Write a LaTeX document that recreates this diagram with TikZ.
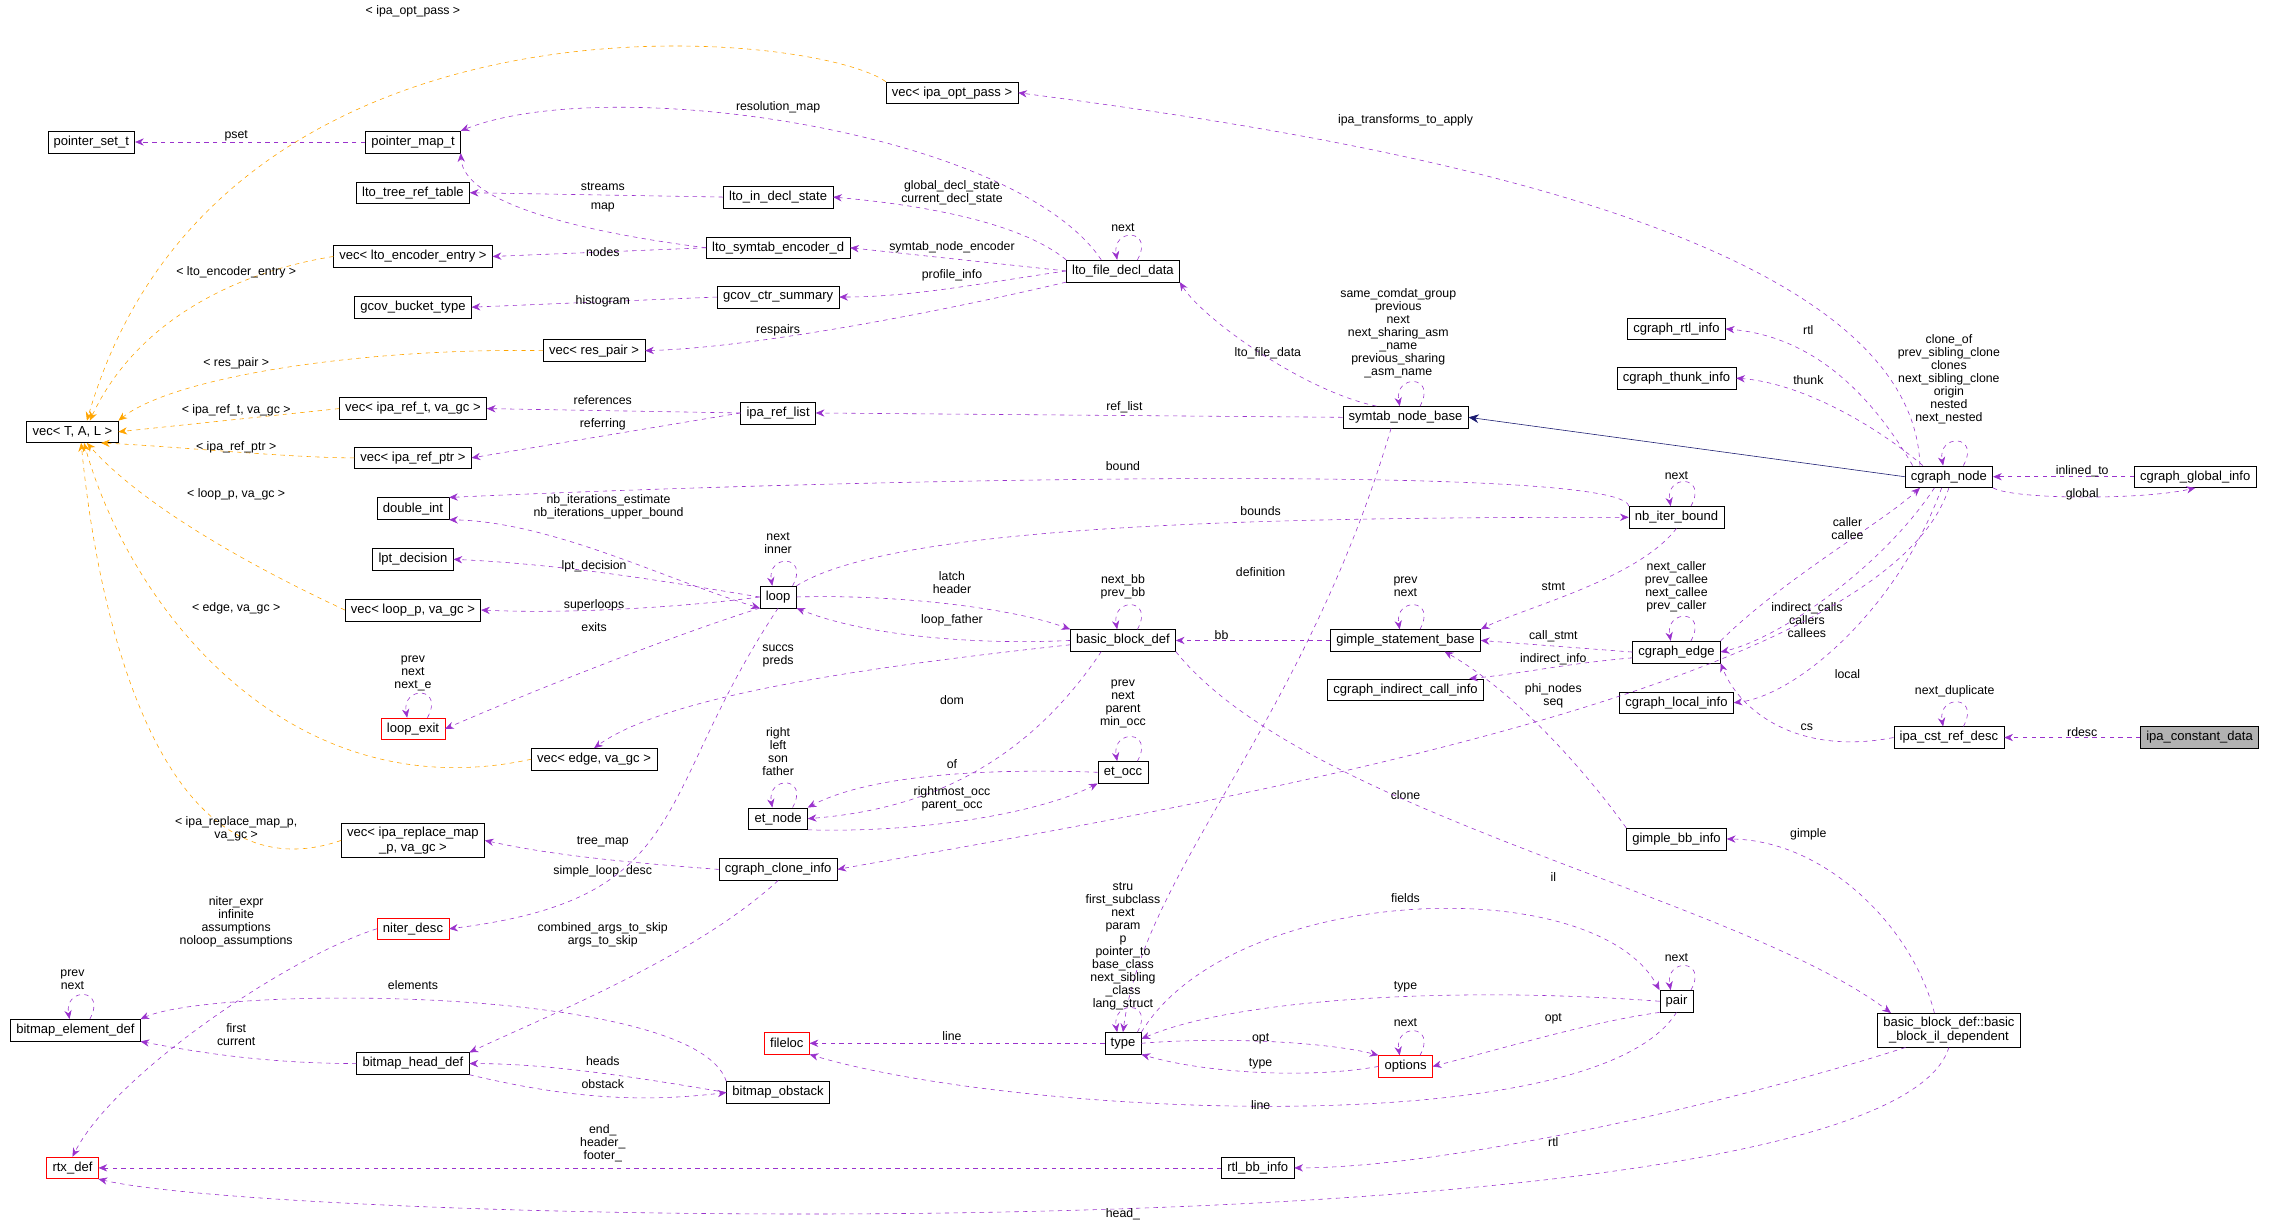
\documentclass[tikz,border=0pt]{standalone}
\usepackage{fontspec}
\setmainfont{Liberation Sans}
\usetikzlibrary{arrows.meta,calc}
\definecolor{pu}{HTML}{9A32CD}
\definecolor{og}{HTML}{FFA500}
\definecolor{nv}{HTML}{191970}
\tikzset{
 cls/.style={draw,fill=white,font=\fontsize{9}{10}\selectfont,inner xsep=4pt,inner ysep=2.5pt,minimum height=15pt,align=center},
 red/.style={cls,draw=red},
 e/.style={draw=pu,dashed,-{Stealth[length=6pt,width=5pt]}},
 o/.style={draw=og,dashed,-{Stealth[length=6pt,width=5pt]}},
 lbl/.style={font=\fontsize{8.5}{9}\selectfont,align=center,inner sep=0pt},
}
\newcommand\myloop[1]{\draw[e] ($(#1.north)+(10,0)$) .. controls +(12,-22) and +(-4,-22) .. ($(#1.north)+(-4,0)$);}
\begin{document}
\begin{tikzpicture}[x=1pt,y=-1pt]
\useasboundingbox[fill=white] (0,0) rectangle (1568,848);
% nodes
\node[cls,fill=black!30] (icd) at (1518,509) {ipa\_constant\_data};
\node[cls] (icr) at (1345,509) {ipa\_cst\_ref\_desc};
\node[cls] (cgn) at (1345,329) {cgraph\_node};
\node[cls] (cgg) at (1515,329) {cgraph\_global\_info};
\node[cls] (crtl) at (1157,227) {cgraph\_rtl\_info};
\node[cls] (cth) at (1157,261) {cgraph\_thunk\_info};
\node[cls] (sym) at (970,288) {symtab\_node\_base};
\node[cls] (ced) at (1157,450) {cgraph\_edge};
\node[cls] (cici) at (970,476) {cgraph\_indirect\_call\_info};
\node[cls] (cli) at (1157,485) {cgraph\_local\_info};
\node[cls] (gsb) at (970,442) {gimple\_statement\_base};
\node[cls] (nib) at (1157,357) {nb\_iter\_bound};
\node[cls] (gbi) at (1157,579) {gimple\_bb\_info};
\node[cls] (bbd) at (775,442) {basic\_block\_def};
\node[cls] (lp) at (537,412) {loop};
\node[cls] (eto) at (775,533) {et\_occ};
\node[cls] (etn) at (537,565) {et\_node};
\node[cls] (vop) at (657,64) {vec< ipa\_opt\_pass >};
\node[cls] (pmt) at (285,98) {pointer\_map\_t};
\node[cls] (pst) at (63,98) {pointer\_set\_t};
\node[cls] (ltr) at (285,133) {lto\_tree\_ref\_table};
\node[cls] (lid) at (537,136) {lto\_in\_decl\_state};
\node[cls] (lse) at (537,171) {lto\_symtab\_encoder\_d};
\node[cls] (lfd) at (775,187) {lto\_file\_decl\_data};
\node[cls] (vle) at (285,177) {vec< lto\_encoder\_entry >};
\node[cls] (gbt) at (285,212) {gcov\_bucket\_type};
\node[cls] (gcs) at (537,205) {gcov\_ctr\_summary};
\node[cls] (vrp) at (410,242) {vec< res\_pair >};
\node[cls] (vt) at (50,298) {vec< T, A, L >};
\node[cls] (vir) at (285,282) {vec< ipa\_ref\_t, va\_gc >};
\node[cls] (irl) at (537,285) {ipa\_ref\_list};
\node[cls] (vip) at (285,316) {vec< ipa\_ref\_ptr >};
\node[cls] (dbi) at (285,351) {double\_int};
\node[cls] (lpt) at (285,386) {lpt\_decision};
\node[cls] (vlp) at (285,421) {vec< loop\_p, va\_gc >};
\node[red] (lex) at (285,503) {loop\_exit};
\node[cls] (ved) at (410,524) {vec< edge, va\_gc >};
\node[cls] (vrm) at (285,580) {vec< ipa\_replace\_map\\\_p, va\_gc >};
\node[cls] (cci) at (537,600) {cgraph\_clone\_info};
\node[red] (nid) at (285,641) {niter\_desc};
\node[cls] (bed) at (52,711) {bitmap\_element\_def};
\node[cls] (bhd) at (285,734) {bitmap\_head\_def};
\node[cls] (bob) at (537,754) {bitmap\_obstack};
\node[red] (flc) at (543,720) {fileloc};
\node[cls] (typ) at (775,720) {type};
\node[red] (opt) at (970,736) {options};
\node[cls] (par) at (1157,691) {pair};
\node[cls] (bbil) at (1345,711) {basic\_block\_def::basic\\\_block\_il\_dependent};
\node[cls] (rbi) at (868,806) {rtl\_bb\_info};
\node[red] (rtx) at (50,806) {rtx\_def};
% edges
\draw[e] (icd) -- (icr); \node[lbl] (l1) at (1437,505) {rdesc};
\myloop{icr} \node[lbl] (l2) at (1349,477) {next\_duplicate};
\draw[e] (icr.west) .. controls (1240,522) and (1200,490) .. (ced.south east); \node[lbl] (l3) at (1247,502) {cs};
\myloop{cgn} \node[lbl] (l4) at (1345,262) {clone\_of\\prev\_sibling\_clone\\clones\\next\_sibling\_clone\\origin\\nested\\next\_nested};
\draw[e] (cgg) -- (cgn); \node[lbl] (l5) at (1437,325) {inlined\_to};
\draw[e] (cgn.south east) .. controls (1390,345) and (1480,345) .. (cgg.south); \node[lbl] (l6) at (1437,341) {global};
\draw[e] ($(cgn.north)+(-25,0)$) .. controls (1290,270) and (1250,232) .. (crtl.east); \node[lbl] (l7) at (1248,228) {rtl};
\draw[e] ($(cgn.north)+(-18,0)$) .. controls (1290,290) and (1240,264) .. (cth.east); \node[lbl] (l8) at (1248,262) {thunk};
\draw[e] ($(cgn.north)+(-20,0)$) .. controls (1320,150) and (900,90) .. (vop.east); \node[lbl] (l9) at (970,83) {ipa\_transforms\_to\_apply};
\draw[draw=nv,-{Stealth[length=7pt,width=6pt]}] (cgn.west) -- (sym.east);
\draw[e] (ced.north east) .. controls (1230,400) and (1300,360) .. ($(cgn.south)+(-20,0)$); \node[lbl] (l11) at (1275,365) {caller\\callee};
\draw[e] ($(cgn.south)+(-10,0)$) .. controls (1300,390) and (1230,440) .. (ced.east); \node[lbl] (l12) at (1247,428) {indirect\_calls\\callers\\callees};
\draw[e] ($(cgn.south)+(-5,0)$) .. controls (1310,420) and (1240,480) .. (cli.east); \node[lbl] (l13) at (1275,465) {local};
\myloop{ced} \node[lbl] (l14) at (1157,405) {next\_caller\\prev\_callee\\next\_callee\\prev\_caller};
\draw[e] (ced.west) -- (gsb.east); \node[lbl] (l15) at (1072,439) {call\_stmt};
\draw[e] ($(ced.west)+(0,4)$) .. controls (1080,458) and (1050,465) .. ($(cici.north east)+(-10,0)$); \node[lbl] (l16) at (1072,455) {indirect\_info};
\draw[e] ($(cgn.south)+(0,0)$) .. controls (1300,480) and (800,560) .. (cci.east); \node[lbl] (l17) at (970,549) {clone};
\myloop{sym} \node[lbl] (l18) at (965,230) {same\_comdat\_group\\previous\\next\\next\_sharing\_asm\\\_name\\previous\_sharing\\\_asm\_name};
\draw[e] ($(sym.north)+(-20,0)$) .. controls (900,270) and (830,220) .. (lfd.south east); \node[lbl] (l19) at (875,244) {lto\_file\_data};
\draw[e] (sym.west) -- (irl.east); \node[lbl] (l20) at (776,281) {ref\_list};
\draw[e] ($(sym.south)+(-10,0)$) .. controls (900,500) and (790,600) .. (typ.north); \node[lbl] (l21) at (870,395) {definition};
\myloop{nib} \node[lbl] (l22) at (1157,328) {next};
\draw[e] (nib.north west) .. controls (1120,320) and (600,330) .. (dbi.north east); \node[lbl] (l23) at (775,322) {bound};
\draw[e] (lp.north east) .. controls (620,360) and (900,357) .. (nib.west); \node[lbl] (l24) at (870,353) {bounds};
\draw[e] (nib.south) .. controls (1130,400) and (1050,420) .. (gsb.north east); \node[lbl] (l25) at (1072,405) {stmt};
\myloop{gsb} \node[lbl] (l26) at (970,405) {prev\\next};
\draw[e] (gsb.west) -- (bbd.east); \node[lbl] (l27) at (843,438) {bb};
\draw[e] (gbi.north west) .. controls (1100,540) and (1050,480) .. ($(gsb.south east)+(-25,0)$); \node[lbl] (l28) at (1072,480) {phi\_nodes\\seq};
\draw[e] ($(bbil.north)+(-10,0)$) .. controls (1320,640) and (1260,580) .. (gbi.east); \node[lbl] (l29) at (1248,576) {gimple};
\draw[e] (bbd.south east) .. controls (900,560) and (1200,620) .. ($(bbil.north)+(-40,0)$); \node[lbl] (l30) at (1072,605) {il};
\draw[e] ($(bbil.south)+(-30,0)$) .. controls (1200,760) and (1000,806) .. (rbi.east); \node[lbl] (l31) at (1072,788) {rtl};
\draw[e] (bbil.south) .. controls (1300,870) and (200,845) .. (rtx.south east); \node[lbl] (l32) at (775,838) {head\_};
\draw[e] (rbi.west) -- (rtx.east); \node[lbl] (l33) at (416,789) {end\_\\header\_\\footer\_};
\myloop{bbd} \node[lbl] (l34) at (775,405) {next\_bb\\prev\_bb};
\draw[e] (lp.east) .. controls (620,410) and (700,420) .. (bbd.north west); \node[lbl] (l35) at (657,402) {latch\\header};
\draw[e] (bbd.west) .. controls (680,445) and (600,440) .. (lp.south east); \node[lbl] (l36) at (657,428) {loop\_father};
\draw[e] ($(bbd.west)+(0,3)$) .. controls (600,460) and (460,480) .. (ved.north); \node[lbl] (l37) at (537,453) {succs\\preds};
\draw[e] ($(bbd.south)+(-15,0)$) .. controls (700,540) and (620,560) .. (etn.east); \node[lbl] (l38) at (657,483) {dom};
\myloop{lp} \node[lbl] (l39) at (537,375) {next\\inner};
\draw[<->,>={Stealth[length=6pt,width=5pt]},draw=pu,dashed] (lp.south west) .. controls (460,400) and (380,360) .. (dbi.south east); \node[lbl] (l40) at (420,350) {nb\_iterations\_estimate\\nb\_iterations\_upper\_bound};
\draw[e] (lp.west) .. controls (480,405) and (400,390) .. (lpt.east); \node[lbl] (l41) at (410,391) {lpt\_decision};
\draw[e] (lp.west) .. controls (480,418) and (400,424) .. (vlp.east); \node[lbl] (l42) at (410,418) {superloops};
\draw[e] (lp.south west) .. controls (460,440) and (360,480) .. (lex.east); \node[lbl] (l43) at (410,433) {exits};
\myloop{lex} \node[lbl] (l44) at (285,465) {prev\\next\\next\_e};
\draw[e] (lp.south) .. controls (450,550) and (480,620) .. (nid.east); \node[lbl] (l45) at (416,601) {simple\_loop\_desc};
\myloop{etn} \node[lbl] (l46) at (537,519) {right\\left\\son\\father};
\draw[e] (eto.west) .. controls (680,530) and (600,535) .. (etn.north east); \node[lbl] (l47) at (657,527) {of};
\draw[e] (etn.south east) .. controls (640,575) and (720,560) .. (eto.south west); \node[lbl] (l48) at (657,551) {rightmost\_occ\\parent\_occ};
\myloop{eto} \node[lbl] (l49) at (775,486) {prev\\next\\parent\\min\_occ};
\myloop{lfd} \node[lbl] (l50) at (775,157) {next};
\draw[e] ($(lfd.north)+(-15,0)$) .. controls (700,90) and (420,50) .. (pmt.north east); \node[lbl] (l51) at (537,74) {resolution\_map};
\draw[e] (lfd.north west) .. controls (700,150) and (620,140) .. (lid.east); \node[lbl] (l52) at (657,133) {global\_decl\_state\\current\_decl\_state};
\draw[e] (lfd.west) -- (lse.east); \node[lbl] (l53) at (657,171) {symtab\_node\_encoder};
\draw[e] (lfd.west) .. controls (680,195) and (630,205) .. (gcs.east); \node[lbl] (l54) at (657,190) {profile\_info};
\draw[e] (lfd.south west) .. controls (650,215) and (520,240) .. (vrp.east); \node[lbl] (l55) at (537,228) {respairs};
\draw[e] (lid.west) -- (ltr.east); \node[lbl] (l56) at (416,129) {streams};
\draw[e] (lse.west) .. controls (400,160) and (320,140) .. (pmt.south east); \node[lbl] (l57) at (416,143) {map};
\draw[e] (lse.west) -- (vle.east); \node[lbl] (l58) at (416,174) {nodes};
\draw[e] (gcs.west) -- (gbt.east); \node[lbl] (l59) at (416,208) {histogram};
\draw[e] (pmt.west) -- (pst.east); \node[lbl] (l60) at (163,94) {pset};
\draw[e] (irl.west) -- (vir.east); \node[lbl] (l61) at (416,276) {references};
\draw[e] (irl.west) -- (vip.east); \node[lbl] (l62) at (416,293) {referring};
\draw[o] (vop.north west) .. controls (560,20) and (150,-20) .. ($(vt.north)+(10,0)$); \node[lbl] (o1) at (285,8) {< ipa\_opt\_pass >};
\draw[o] (vle.west) .. controls (150,190) and (90,230) .. ($(vt.north)+(12,0)$); \node[lbl] (o2) at (163,188) {< lto\_encoder\_entry >};
\draw[o] (vrp.west) .. controls (250,240) and (120,260) .. (vt.north east); \node[lbl] (o3) at (163,251) {< res\_pair >};
\draw[o] (vir.west) -- (vt.east); \node[lbl] (o4) at (163,283) {< ipa\_ref\_t, va\_gc >};
\draw[o] (vip.west) .. controls (200,316) and (120,308) .. ($(vt.south east)+(-12,0)$); \node[lbl] (o5) at (163,309) {< ipa\_ref\_ptr >};
\draw[o] (vlp.west) .. controls (150,380) and (90,340) .. ($(vt.south)+(10,0)$); \node[lbl] (o6) at (163,341) {< loop\_p, va\_gc >};
\draw[o] (ved.west) .. controls (200,560) and (90,420) .. ($(vt.south)+(8,0)$); \node[lbl] (o7) at (163,420) {< edge, va\_gc >};
\draw[o] (vrm.west) .. controls (120,620) and (70,450) .. ($(vt.south)+(6,0)$); \node[lbl] (o8) at (163,572) {< ipa\_replace\_map\_p,\\va\_gc >};
\draw[e] (cci.west) .. controls (430,595) and (380,590) .. (vrm.east); \node[lbl] (l71) at (416,581) {tree\_map};
\draw[e] (cci.south) .. controls (480,660) and (380,700) .. (bhd.north east); \node[lbl] (l72) at (416,645) {combined\_args\_to\_skip\\args\_to\_skip};
\draw[e] (nid.west) .. controls (200,660) and (80,740) .. (rtx.north); \node[lbl] (l73) at (163,636) {niter\_expr\\infinite\\assumptions\\noloop\_assumptions};
\myloop{bed} \node[lbl] (l74) at (50,676) {prev\\next};
\draw[e] (bob.north west) .. controls (480,680) and (150,680) .. (bed.north east); \node[lbl] (l75) at (285,680) {elements};
\draw[e] (bhd.west) .. controls (180,734) and (130,725) .. (bed.south east); \node[lbl] (l76) at (163,714) {first\\current};
\draw[e] (bob.west) .. controls (420,740) and (370,734) .. (bhd.east); \node[lbl] (l77) at (416,732) {heads};
\draw[e] (bhd.south east) .. controls (400,760) and (450,760) .. (bob.west); \node[lbl] (l78) at (416,748) {obstack};
\draw[e] (typ.west) -- (flc.east); \node[lbl] (l79) at (657,715) {line};
\myloop{typ} \node[lbl] (l80) at (775,653) {stru\\first\_subclass\\next\\param\\p\\pointer\_to\\base\_class\\next\_sibling\\\_class\\lang\_struct};
\draw[e] (typ.east) .. controls (850,715) and (920,720) .. (opt.north west); \node[lbl] (l81) at (870,717) {opt};
\draw[e] (opt.west) .. controls (900,745) and (830,740) .. (typ.south east); \node[lbl] (l81b) at (870,734) {type};
\myloop{opt} \node[lbl] (l82) at (970,706) {next};
\draw[e] (par.west) .. controls (1000,680) and (850,690) .. ($(typ.east)+(0,-3)$); \node[lbl] (l83) at (970,681) {type};
\draw[e] (par.south west) .. controls (1100,705) and (1050,720) .. (opt.east); \node[lbl] (l84) at (1072,703) {opt};
\draw[e] (par.south) .. controls (1100,790) and (700,770) .. (flc.south east); \node[lbl] (l85) at (870,763) {line};
\myloop{par} \node[lbl] (l86) at (1157,661) {next};
\draw[e] (typ.north east) .. controls (850,610) and (1100,600) .. (par.north west); \node[lbl] (l87) at (970,620) {fields};
\end{tikzpicture}
\end{document}
